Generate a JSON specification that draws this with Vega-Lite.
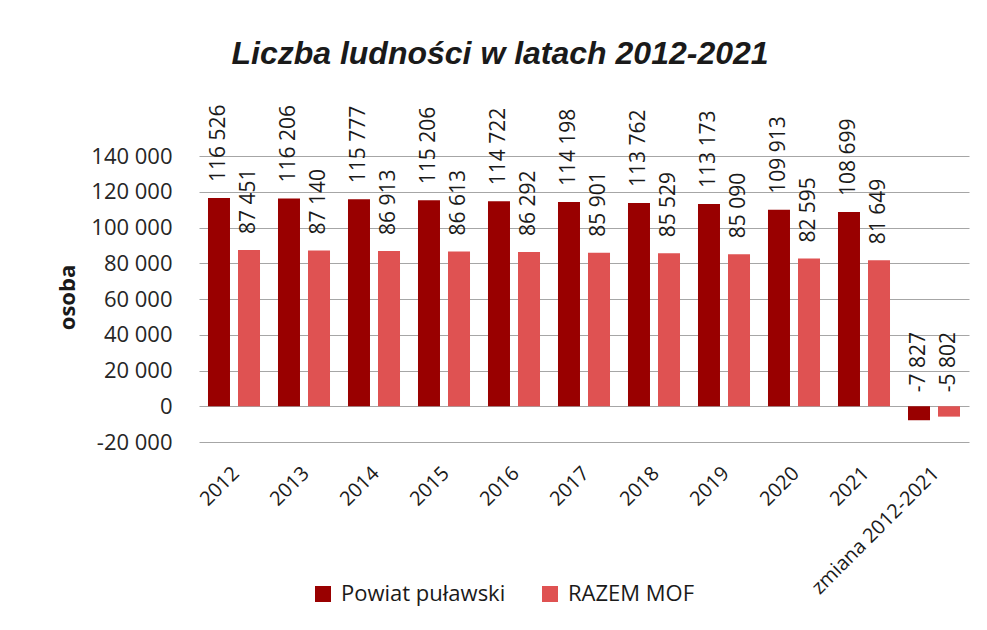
{
  "$schema": "https://vega.github.io/schema/vega-lite/v6.json",
  "autosize": {"type": "none"},
  "width": 770,
  "height": 286,
  "padding": {"left": 199, "top": 156, "right": 18, "bottom": 188},
  "background": "white",
  "config": {
    "locale": {"number": {"decimal": ",", "thousands": " ", "grouping": [3], "currency": ["", " zł"], "minus": "-"}},
    "view": {"stroke": null},
    "font": "Open Sans"
  },
  "title": {
    "text": "Liczba ludności w latach 2012-2021",
    "font": "Liberation Sans",
    "fontSize": 32,
    "fontWeight": "bold",
    "fontStyle": "italic",
    "color": "#1a1a1a",
    "anchor": "middle",
    "frame": "group",
    "dx": -84,
    "offset": 33
  },
  "data": {
    "values": [
      {"kat": "2012", "seria": "Powiat puławski", "v": 116526},
      {"kat": "2012", "seria": "RAZEM MOF", "v": 87451},
      {"kat": "2013", "seria": "Powiat puławski", "v": 116206},
      {"kat": "2013", "seria": "RAZEM MOF", "v": 87140},
      {"kat": "2014", "seria": "Powiat puławski", "v": 115777},
      {"kat": "2014", "seria": "RAZEM MOF", "v": 86913},
      {"kat": "2015", "seria": "Powiat puławski", "v": 115206},
      {"kat": "2015", "seria": "RAZEM MOF", "v": 86613},
      {"kat": "2016", "seria": "Powiat puławski", "v": 114722},
      {"kat": "2016", "seria": "RAZEM MOF", "v": 86292},
      {"kat": "2017", "seria": "Powiat puławski", "v": 114198},
      {"kat": "2017", "seria": "RAZEM MOF", "v": 85901},
      {"kat": "2018", "seria": "Powiat puławski", "v": 113762},
      {"kat": "2018", "seria": "RAZEM MOF", "v": 85529},
      {"kat": "2019", "seria": "Powiat puławski", "v": 113173},
      {"kat": "2019", "seria": "RAZEM MOF", "v": 85090},
      {"kat": "2020", "seria": "Powiat puławski", "v": 109913},
      {"kat": "2020", "seria": "RAZEM MOF", "v": 82595},
      {"kat": "2021", "seria": "Powiat puławski", "v": 108699},
      {"kat": "2021", "seria": "RAZEM MOF", "v": 81649},
      {"kat": "zmiana 2012-2021", "seria": "Powiat puławski", "v": -7827},
      {"kat": "zmiana 2012-2021", "seria": "RAZEM MOF", "v": -5802}
    ]
  },
  "encoding": {
    "x": {
      "field": "kat", "type": "nominal", "sort": null,
      "scale": {"paddingInner": 0.257, "paddingOuter": 0.1285},
      "axis": {
        "title": null, "labelAngle": -45, "labelFontSize": 20, "labelColor": "#1a1a1a",
        "ticks": false, "domain": false, "labelPadding": 28, "labelOffset": 2,
        "labelAlign": "right", "labelBaseline": "middle", "labelLimit": 400
      }
    },
    "xOffset": {
      "field": "seria", "type": "nominal",
      "scale": {"domain": ["Powiat puławski", "RAZEM MOF"], "paddingInner": 0.267, "paddingOuter": 0}
    }
  },
  "layer": [
    {
      "mark": {"type": "bar"},
      "encoding": {
        "y": {
          "field": "v", "type": "quantitative",
          "scale": {"domain": [-20000, 140000], "nice": false, "zero": false},
          "axis": {
            "title": "osoba", "titleFontSize": 22, "titleFontWeight": "bold", "titleColor": "#1a1a1a",
            "titleAngle": -90, "titleX": -125, "titleY": 141, "titleAlign": "center", "titleBaseline": "alphabetic",
            "values": [-20000, 0, 20000, 40000, 60000, 80000, 100000, 120000, 140000],
            "tickCount": 12,
            "labelOverlap": false,
            "format": ",d", "labelFontSize": 22, "labelColor": "#262626", "labelPadding": 27,
            "ticks": false, "domain": false, "gridColor": "#a6a6a6", "gridWidth": 1, "gridOpacity": 1
          }
        },
        "color": {
          "field": "seria", "type": "nominal",
          "scale": {"domain": ["Powiat puławski", "RAZEM MOF"], "range": ["#990000", "#df5252"]},
          "legend": {
            "title": null, "orient": "none", "direction": "horizontal", "columns": 2,
            "legendX": 113, "legendY": 427, "symbolType": "square", "symbolSize": 256,
            "symbolStrokeWidth": 0, "labelFontSize": 22, "labelColor": "#1a1a1a", "labelOffset": 7,
            "columnPadding": 33, "padding": 0, "labelLimit": 400
          }
        }
      }
    },
    {
      "transform": [{"filter": "datum.v >= 0"}],
      "mark": {"type": "text", "angle": 270, "align": "left", "baseline": "middle", "dx": 16, "fontSize": 21, "color": "#1a1a1a"},
      "encoding": {
        "y": {"field": "v", "type": "quantitative"},
        "text": {"field": "v", "type": "quantitative", "format": ",d"}
      }
    },
    {
      "transform": [{"filter": "datum.v < 0"}],
      "mark": {"type": "text", "angle": 270, "align": "left", "baseline": "middle", "dx": 14, "fontSize": 21, "color": "#1a1a1a"},
      "encoding": {
        "y": {"datum": 0, "type": "quantitative"},
        "text": {"field": "v", "type": "quantitative", "format": ",d"}
      }
    }
  ]
}
